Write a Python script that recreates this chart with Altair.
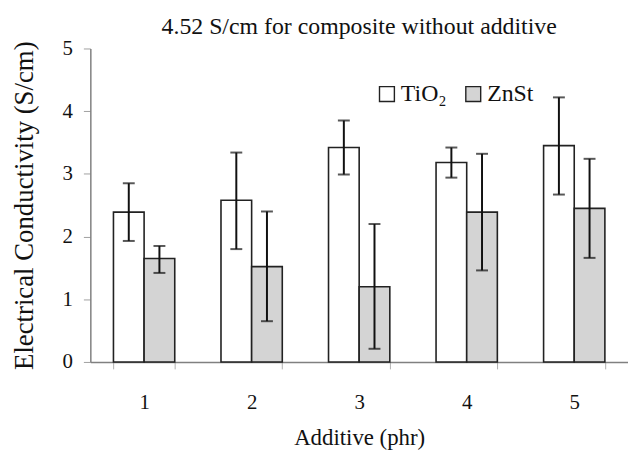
import altair as alt
import pandas as pd

additive = [1, 2, 3, 4, 5]
tio2_mean = [2.39, 2.58, 3.42, 3.18, 3.45]
tio2_low = [1.93, 1.80, 2.99, 2.94, 2.67]
tio2_high = [2.85, 3.34, 3.85, 3.42, 4.22]
znst_mean = [1.65, 1.52, 1.20, 2.39, 2.45]
znst_low = [1.42, 0.65, 0.21, 1.46, 1.66]
znst_high = [1.85, 2.40, 2.20, 3.32, 3.24]
series = ["TiO₂", "ZnSt"]

rows = []
for i, a in enumerate(additive):
    rows.append({"Additive": a, "Series": series[0], "value": tio2_mean[i], "low": tio2_low[i], "high": tio2_high[i]})
    rows.append({"Additive": a, "Series": series[1], "value": znst_mean[i], "low": znst_low[i], "high": znst_high[i]})
df = pd.DataFrame(rows)

FONT = "Liberation Serif, Times New Roman, serif"

x = alt.X("Additive:O", title="Additive  (phr)",
          scale=alt.Scale(paddingInner=0.43, paddingOuter=0.215),
          axis=alt.Axis(labelAngle=0, tickBand="extent", tickSize=7, labelPadding=23,
                        titlePadding=14, titleFontSize=23, domainColor="#808080", domainWidth=1.5,
                        tickColor="#b0b0b0", tickWidth=1))
xoff = alt.XOffset("Series:N", sort=series, scale=alt.Scale(paddingInner=0, paddingOuter=0))

bars = alt.Chart(df).mark_bar(stroke="#222222", strokeWidth=1.6).encode(
    x=x,
    xOffset=xoff,
    y=alt.Y("value:Q", title="Electrical Conductivity (S/cm)",
            scale=alt.Scale(domain=[0, 5]),
            axis=alt.Axis(values=[0, 1, 2, 3, 4, 5], format="d", grid=False, tickSize=7,
                          labelPadding=11, titlePadding=24, titleFontSize=27,
                          domainColor="#808080",
                          domainWidth=1.5, tickColor="#a0a0a0", tickWidth=1)),
    fill=alt.Fill("Series:N", sort=series,
                  scale=alt.Scale(domain=series, range=["#ffffff", "#d4d4d4"]),
                  legend=alt.Legend(title=None, orient="none", legendX=287, legendY=34,
                                    direction="horizontal", symbolType="square",
                                    symbolSize=225, symbolStrokeColor="#222222",
                                    symbolStrokeWidth=1.4, labelFontSize=24,
                                    labelFont=FONT, labelColor="#111111",
                                    columnPadding=14, labelOffset=2)),
)

rules = alt.Chart(df).mark_rule(color="#111111", strokeWidth=2).encode(
    x=x, xOffset=xoff, y="low:Q", y2="high:Q")
caps_hi = alt.Chart(df).mark_tick(color="#111111", thickness=2, size=12, orient="horizontal").encode(
    x=x, xOffset=xoff, y="high:Q")
caps_lo = alt.Chart(df).mark_tick(color="#111111", thickness=2, size=12, orient="horizontal").encode(
    x=x, xOffset=xoff, y="low:Q")

chart = alt.layer(bars, rules, caps_hi, caps_lo).properties(
    width=542, height=316,
    title=alt.Title("4.52 S/cm for composite without additive", font=FONT, fontSize=24,
                    fontWeight="normal", color="#111111", anchor="middle", offset=3,
                    dy=4, frame="group"),
    autosize=alt.AutoSizeParams(type="none"),
    padding={"left": 83, "top": 39, "right": 0, "bottom": 92},
).configure_view(stroke=None).configure_axis(
    labelFont=FONT, titleFont=FONT, labelFontSize=21,
    labelColor="#111111", titleColor="#111111", titleFontWeight="normal"
)

chart.save("out.html", embed_options={"renderer": "svg", "actions": False})
